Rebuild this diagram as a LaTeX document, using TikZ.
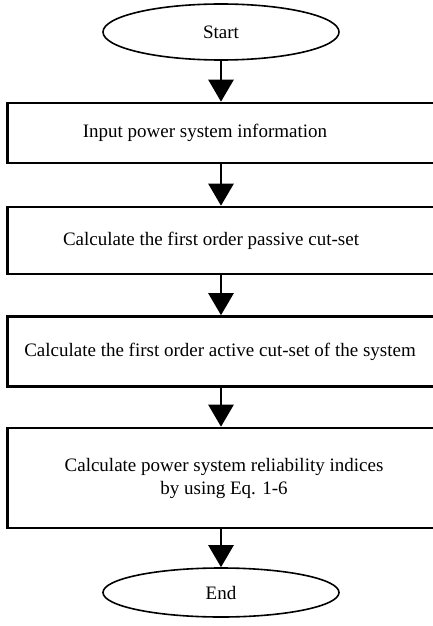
\documentclass[tikz,border=0pt]{standalone}
\usepackage{fontspec}
\setmainfont{Liberation Serif}
\usetikzlibrary{arrows.meta,shapes.geometric}

\begin{document}
\begin{tikzpicture}[x=1pt,y=-1pt,
  every node/.style={font=\fontsize{19}{23}\selectfont},
  terminal/.style={draw,ellipse,line width=1.6pt,minimum width=236pt,inner sep=0pt},
  stepbox/.style={draw,rectangle,line width=2.6pt,minimum width=433pt,inner sep=0pt},
  flow/.style={line width=2.6pt,-{Triangle[width=25pt,length=22pt]}}]
  \useasboundingbox (0,0) rectangle (433,626);
  \clip (0,0) rectangle (433,626);
  \node[terminal,minimum height=56pt] (start) at (221,32) {Start};
  \node[stepbox,minimum height=60pt,label={[xshift=-19pt]center:Input power system information}] (input) at (224,133) {};
  \node[stepbox,minimum height=67pt,label={[xshift=-13pt]center:Calculate the first order passive cut-set}] (passive) at (224,240.5) {};
  \node[stepbox,minimum height=70pt,label={[xshift=-4pt]center:Calculate the first order active cut-set of the system}] (active) at (224,351.5) {};
  \node[stepbox,minimum height=100pt,label={[align=center]center:Calculate power system reliability indices\\by using Eq. 1-6}] (indices) at (224,478) {};
  \node[terminal,minimum height=49pt] (end) at (221,592.5) {End};
  \draw[flow] (start.south) -- (start.south |- input.north);
  \draw[flow] (start.south |- input.south) -- (start.south |- passive.north);
  \draw[flow] (start.south |- passive.south) -- (start.south |- active.north);
  \draw[flow] (start.south |- active.south) -- (start.south |- indices.north);
  \draw[flow] (start.south |- indices.south) -- (end.north);
\end{tikzpicture}
\end{document}
